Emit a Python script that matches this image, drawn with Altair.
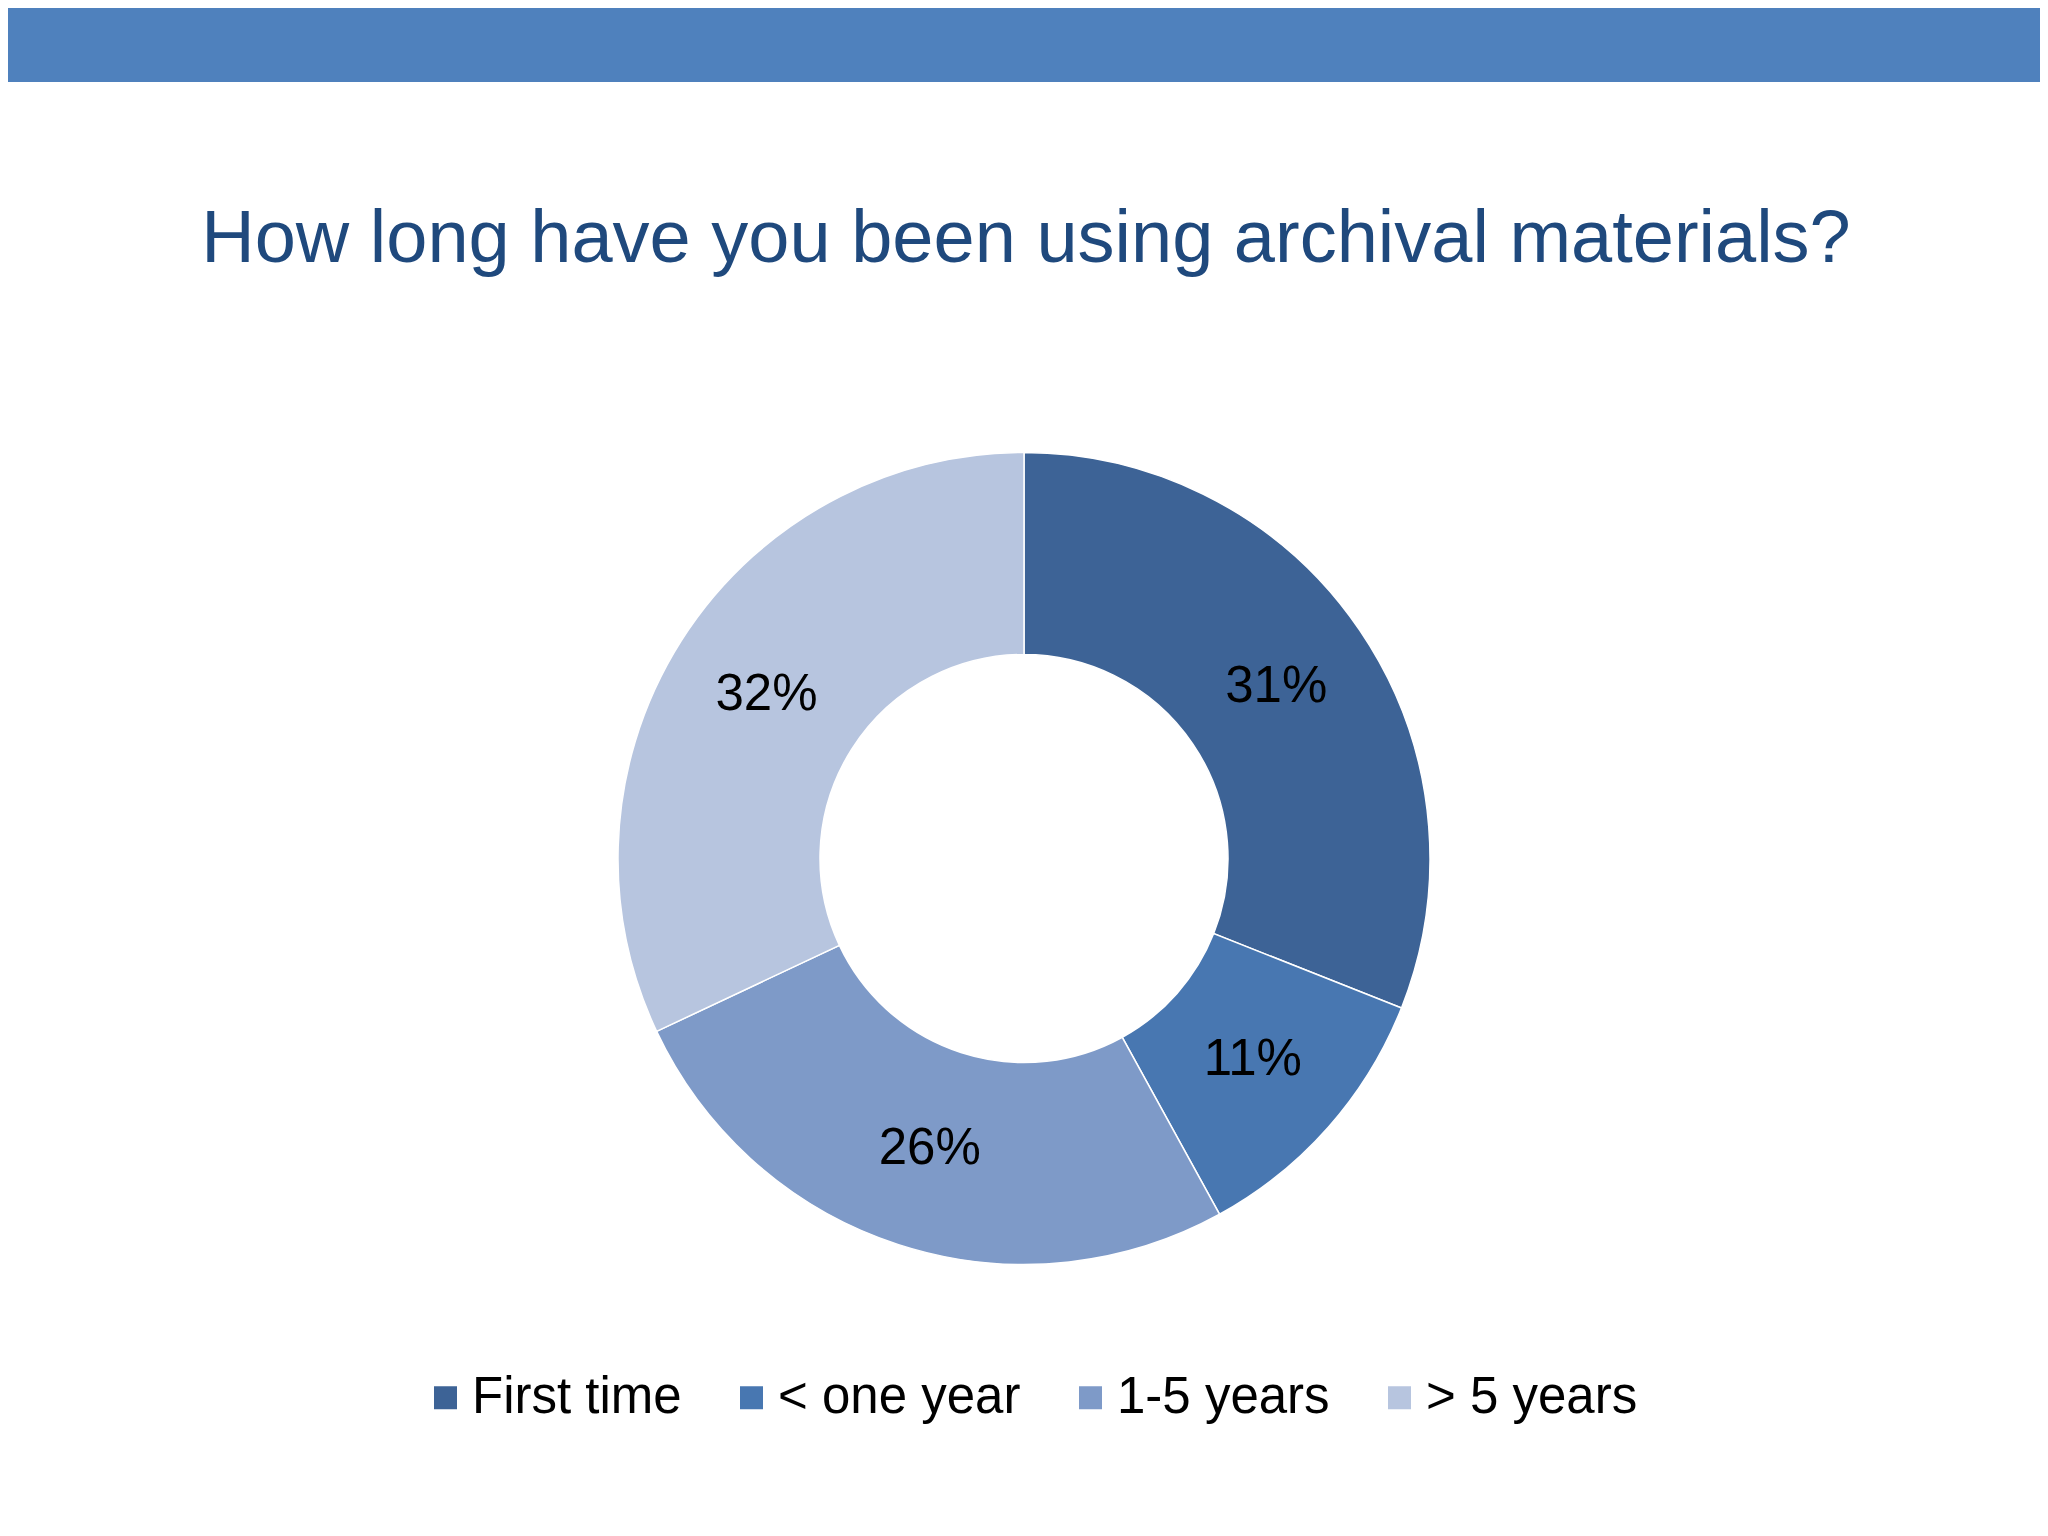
import altair as alt
import pandas as pd

title_text = "How long have you been using archival materials?"
categories = ["First time", "< one year", "1-5 years", "> 5 years"]
values = [31, 11, 26, 32]
colors = ["#3D6396", "#4877B1", "#7E9AC8", "#B7C5DF"]

df = pd.DataFrame({
    "category": categories,
    "value": values,
    "idx": list(range(len(categories))),
    "label": [f"{v}%" for v in values],
})

W, H = 2032, 1520
CX, CY = 1016, 850.5

base = alt.Chart(df).encode(
    theta=alt.Theta("value:Q", stack=True),
    order=alt.Order("idx:Q", sort="ascending"),
)

arcs = base.mark_arc(innerRadius=204, outerRadius=406, stroke="white", strokeWidth=1.5).encode(
    x=alt.value(CX),
    y=alt.value(CY),
    color=alt.Color(
        "category:N",
        sort=categories,
        scale=alt.Scale(domain=categories, range=colors),
        legend=alt.Legend(
            orient="none",
            legendX=412,
            legendY=1364,
            direction="horizontal",
            title=None,
            symbolType="square",
            symbolSize=529,
            symbolStrokeWidth=0,
            labelFont="Liberation Sans",
            labelFontSize=51,
            labelColor="black",
            labelOffset=1,
            labelLimit=0,
            columnPadding=44,
            padding=0,
        ),
    ),
)

texts = base.mark_text(
    radius=305, font="Liberation Sans", fontSize=51, color="black",
    align="center", baseline="middle",
).encode(
    x=alt.value(CX),
    y=alt.value(CY),
    text="label:N",
    detail="category:N",
)

band = alt.Chart(pd.DataFrame({"a": [0]})).mark_rect(color="#4F81BD").encode(
    x=alt.value(0), x2=alt.value(W), y=alt.value(0), y2=alt.value(74)
)

title = alt.Chart(pd.DataFrame({"t": [title_text]})).mark_text(
    font="Liberation Sans", fontSize=74, color="#1F497D",
    align="center", baseline="alphabetic",
).encode(text="t:N", x=alt.value(1018), y=alt.value(254))

chart = alt.layer(band, title, arcs, texts).properties(
    width=W, height=H,
    autosize=alt.AutoSizeParams(type="none"),
    padding=0,
).configure_view(stroke="transparent")

chart.save("out.html", embed_options={"renderer": "svg", "actions": False})
